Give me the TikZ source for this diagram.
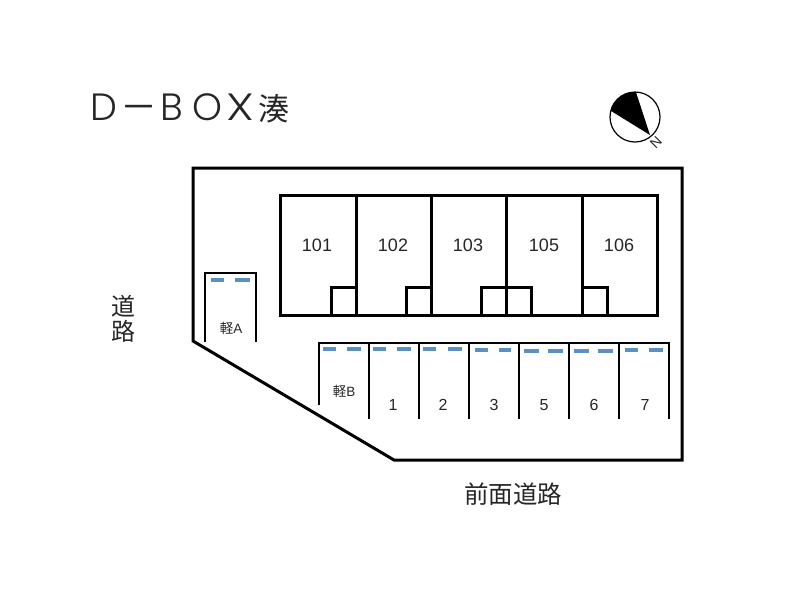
\documentclass[tikz,border=0pt]{standalone}
\usepackage{fontspec}
\setmainfont{Noto Sans CJK JP}
\newfontfamily\numfont{Liberation Sans}
\newfontfamily\titlefont{Poppins Light}
\tikzset{
  wall/.style={line width=3pt, line join=miter},
  thinwall/.style={line width=2pt, line join=miter},
  slotmark/.style={line width=3.5pt, color=slotblue},
  every node/.style={inner sep=0, outer sep=0, text=black!85}
}
\definecolor{slotblue}{HTML}{5B90C4}
\begin{document}
\begin{tikzpicture}[x=1pt, y=-1pt]
  \useasboundingbox (0,0) rectangle (800,600);
  % site outline
  \draw [wall] (193,168) -- (682,168) -- (682,460) -- (394,460) -- (193,341) -- cycle;
  % building
  \draw [wall] (280,195) rectangle (657,315);
  \foreach \x/\name in {356/102, 431/103, 506/105, 582/106} {\draw [wall] (\x,195) -- (\x,315);}
  \foreach \x in {331,406,481,506,582} {\draw [wall] (\x,315) -- (\x,287) -- (\x+25,287) -- (\x+25,315);}
  \foreach \x/\name in {317/101, 393/102, 468/103, 544/105, 619/106} {\node (room\name) at (\x,245) {\numfont\fontsize{18}{18}\selectfont \name};}
  % parking
  \draw [thinwall] (205,342) -- (205,273) -- (256,273) -- (256,342);
  \draw [thinwall] (319,405) -- (319,343) -- (669,343) -- (669,419);
  \foreach \x in {369,419,469,519,569,619} {\draw [thinwall] (\x,343) -- (\x,419);}
  \foreach \xa/\xb/\y in {211/224/280, 235/250/280, 323/336/349, 347/361/349, 373/386/349, 397/411/349, 423/436/349, 448/462/349, 475/488/350, 499/511/350, 524/539/351, 548/563/351, 574/589/351, 598/613/351, 625/638/350, 649/663/350} {\draw [slotmark] (\xa,\y) -- (\xb,\y);}
  \node (keiA) at (231,328) {\fontsize{13.5}{13.5}\selectfont 軽{\numfont A}};
  \node (keiB) at (344,391) {\fontsize{13.5}{13.5}\selectfont 軽{\numfont B}};
  \foreach \x/\name in {393/1, 443/2, 494/3, 544/5, 594/6, 645/7} {\node (slot\name) at (\x,405) {\numfont\fontsize{16}{16}\selectfont \name};}
  % text
  \node [anchor=west] (title) at (90,108) {\titlefont\fontsize{38}{38}\selectfont D\kern4pt{\rmfamily\fontsize{37}{37}\selectfont －}\kern3pt B\kern9pt O\kern4pt \scalebox{1.25}[1]{X}\kern4pt{\rmfamily\fontsize{31}{31}\selectfont 湊}};
  \node (road) at (123,319) {\fontsize{24}{26}\selectfont\shortstack{道\\路}};
  \node (front) at (513,494) {\fontsize{24.5}{24.5}\selectfont 前面道路};
  % compass
  \draw [line width=1.2pt] (635,117) circle (25);
  \begin{scope}
    \clip (635,117) circle (25);
    \fill [black] (650,135) -- (632,80) -- (590,98) -- cycle;
  \end{scope}
  \node [rotate=-135] (north) at (656,142) {\numfont\fontsize{14}{14}\selectfont N};
\end{tikzpicture}
\end{document}
